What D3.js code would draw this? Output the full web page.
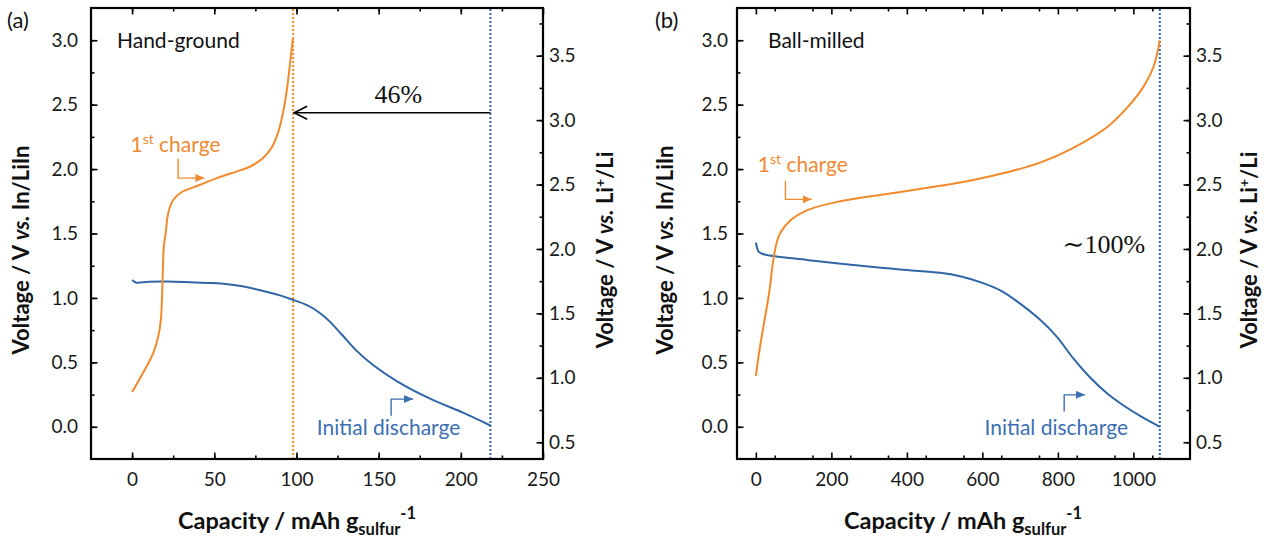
<!DOCTYPE html>
<html>
<head>
<meta charset="utf-8">
<script src="https://cdn.jsdelivr.net/npm/d3@7"></script>
<style>
  body { margin: 0; background: #fff; }
  text { font-family: Lato, "Noto Sans", sans-serif; }
</style>
</head>
<body>
<script>
// Hand-ground cell: capacity (mAh/g sulfur) and voltage vs In/LiIn
const handChargeCap = [0, 6.7, 12.8, 15.9, 17.5, 18.3, 18.9, 19.3, 20.4, 22, 25, 30, 41, 51.5, 65.7, 72, 80, 85, 89, 92, 94, 96.2, 97.8];
const handChargeV = [0.27, 0.42, 0.57, 0.70, 0.83, 1.04, 1.29, 1.40, 1.50, 1.66, 1.76, 1.82, 1.876, 1.93, 1.99, 2.02, 2.09, 2.17, 2.29, 2.45, 2.60, 2.83, 3.01];
const handDischargeCap = [0, 1.5, 3, 10, 21, 35, 49, 65, 78, 90, 98, 105, 110, 115, 120, 128, 137, 147, 161, 181, 202, 218];
const handDischargeV = [1.14, 1.125, 1.118, 1.125, 1.127, 1.122, 1.115, 1.095, 1.06, 1.02, 0.985, 0.952, 0.92, 0.875, 0.82, 0.71, 0.585, 0.475, 0.355, 0.22, 0.106, 0.01];

// Ball-milled cell
const ballChargeCap = [0, 7, 20, 32, 38, 44, 50, 56, 64, 91, 135, 223, 356, 488, 576, 665, 753, 841, 930, 983, 1027, 1053, 1070];
const ballChargeV = [0.395, 0.545, 0.78, 0.98, 1.10, 1.25, 1.36, 1.44, 1.50, 1.60, 1.68, 1.75, 1.81, 1.87, 1.915, 1.975, 2.05, 2.165, 2.325, 2.475, 2.64, 2.79, 3.0];
const ballDischargeCap = [0, 3, 7, 15, 29, 135, 311, 400, 488, 541, 602, 650, 691, 753, 797, 841, 886, 930, 974, 1020, 1070];
const ballDischargeV = [1.43, 1.39, 1.36, 1.345, 1.333, 1.295, 1.24, 1.217, 1.195, 1.168, 1.115, 1.055, 0.975, 0.83, 0.70, 0.53, 0.38, 0.26, 0.165, 0.08, 0.0];

// tick labels
const handCapTicks = [0, 50, 100, 150, 200, 250];
const ballCapTicks = [0, 200, 400, 600, 800, 1000];
const voltTicks = [0, 0.5, 1.0, 1.5, 2.0, 2.5, 3.0];
const liTicks = [0.5, 1.0, 1.5, 2.0, 2.5, 3.0, 3.5];
const liInOffset = 0.62; // In/LiIn vs Li+/Li

const orange = "#F28A2C", blue = "#2F66A5";
const orangeText = "#F08A32", blueText = "#3C6FB2";

const plotTop = 8, plotBottom = 459;
const voltDomain = [-0.25, 3.25];

const svg = d3.select("body").append("svg")
    .attr("width", 1267)
    .attr("height", 540);

// arrow heads
const defs = svg.append("defs");
[["tri-orange", orangeText], ["tri-blue", blueText]].forEach(([id, c]) => {
  defs.append("marker")
      .attr("id", id)
      .attr("markerUnits", "userSpaceOnUse")
      .attr("markerWidth", 10).attr("markerHeight", 10)
      .attr("refX", 9).attr("refY", 4)
      .attr("orient", "auto")
    .append("path")
      .attr("d", "M0,0 L9,4 L0,8 Z")
      .attr("fill", c);
});
defs.append("marker")
    .attr("id", "open-black")
    .attr("markerUnits", "userSpaceOnUse")
    .attr("markerWidth", 16).attr("markerHeight", 16)
    .attr("refX", 14).attr("refY", 7)
    .attr("orient", "auto")
  .append("path")
    .attr("d", "M1,0.5 L14,7 L1,13.5")
    .attr("fill", "none")
    .attr("stroke", "#000")
    .attr("stroke-width", 1.6);

const panels = [
  {
    tag: "(a)", tagX: 7, name: "Hand-ground", nameX: 117,
    left: 91, right: 543, xDomain: [-25, 250], xTicks: handCapTicks, xMinor: 25,
    leftPad: 13, titleX: 297, yTitleX: 29, y2TitleX: 613,
    charge: [handChargeCap, handChargeV], discharge: [handDischargeCap, handDischargeV],
    dotted: [[98, orange], [218, blue]],
    chargeLabel: {c: -1, v: 2.13, ax: 28, v1: 2.08, v2: 1.93, ax2: 44},
    dischargeLabel: {c: 112.4, v: -0.062, ax: 157.6, v1: 0.085, v2: 0.215, ax2: 171},
    gap: {from: 218, to: 98, v: 2.437, label: "46%", lc: 162, lv: 2.51, anchor: "middle"}
  },
  {
    tag: "(b)", tagX: 655, name: "Ball-milled", nameX: 768,
    left: 737, right: 1190, xDomain: [-50, 1150], xTicks: ballCapTicks, xMinor: 100,
    leftPad: 9, titleX: 963, yTitleX: 673, y2TitleX: 1257,
    charge: [ballChargeCap, ballChargeV], discharge: [ballDischargeCap, ballDischargeV],
    dotted: [[1070, blue]],
    chargeLabel: {c: 5, v: 1.98, ax: 78.4, v1: 1.91, v2: 1.765, ax2: 148},
    dischargeLabel: {c: 605.6, v: -0.062, ax: 816.7, v1: 0.119, v2: 0.248, ax2: 872},
    gap: {label: "\u223C100%", lc: 1031, lv: 1.35, anchor: "end"}
  }
];

function styleAxis(a, fontSize) {
  a.select(".domain").remove();
  a.selectAll(".tick line").attr("stroke", "#000").attr("stroke-width", 1.6);
  a.selectAll("text")
      .style("font-family", "Lato, 'Noto Sans', sans-serif")
      .style("font-size", fontSize + "px")
      .attr("fill", "#1a1a1a");
}

panels.forEach(p => {
  const x = d3.scaleLinear().domain(p.xDomain).range([p.left, p.right]);
  const y = d3.scaleLinear().domain(voltDomain).range([plotBottom, plotTop]);
  const y2 = d3.scaleLinear()
      .domain([voltDomain[0] + liInOffset, voltDomain[1] + liInOffset])
      .range([plotBottom, plotTop]);

  const g = svg.append("g");

  // minor ticks (inward)
  const xMinor = d3.range(p.xDomain[0] + p.xMinor, p.xDomain[1], p.xMinor);
  const yMinor = d3.range(0, 3.25, 0.25);
  const y2Minor = d3.range(0.5, 3.87, 0.25);
  g.append("g").attr("transform", `translate(0,${plotBottom})`)
      .call(d3.axisBottom(x).tickValues(xMinor).tickSize(-3.5).tickFormat(""))
      .call(a => styleAxis(a, 19));
  g.append("g").attr("transform", `translate(0,${plotTop})`)
      .call(d3.axisTop(x).tickValues(xMinor).tickSize(-3.5).tickFormat(""))
      .call(a => styleAxis(a, 19));
  g.append("g").attr("transform", `translate(${p.left},0)`)
      .call(d3.axisLeft(y).tickValues(yMinor).tickSize(-3.5).tickFormat(""))
      .call(a => styleAxis(a, 19));
  g.append("g").attr("transform", `translate(${p.right},0)`)
      .call(d3.axisRight(y2).tickValues(y2Minor).tickSize(-3.5).tickFormat(""))
      .call(a => styleAxis(a, 19));

  // major ticks
  g.append("g").attr("transform", `translate(0,${plotBottom})`)
      .call(d3.axisBottom(x).tickValues(p.xTicks).tickSize(-6.5).tickPadding(14).tickFormat(d3.format("d")))
      .call(a => styleAxis(a, 19));
  g.append("g").attr("transform", `translate(0,${plotTop})`)
      .call(d3.axisTop(x).tickValues(p.xTicks).tickSize(-6.5).tickFormat(""))
      .call(a => styleAxis(a, 19));
  g.append("g").attr("transform", `translate(${p.left},0)`)
      .call(d3.axisLeft(y).tickValues(voltTicks).tickSize(-6.5).tickPadding(p.leftPad).tickFormat(d3.format(".1f")))
      .call(a => styleAxis(a, 19));
  g.append("g").attr("transform", `translate(${p.right},0)`)
      .call(d3.axisRight(y2).tickValues(liTicks).tickSize(-6.5).tickPadding(6).tickFormat(d3.format(".1f")))
      .call(a => styleAxis(a, 19));

  // frame
  g.append("rect")
      .attr("x", p.left).attr("y", plotTop)
      .attr("width", p.right - p.left).attr("height", plotBottom - plotTop)
      .attr("fill", "none").attr("stroke", "#000").attr("stroke-width", 2.2);

  // dotted capacity markers
  p.dotted.forEach(([c, col]) => {
    g.append("line")
        .attr("x1", x(c)).attr("x2", x(c))
        .attr("y1", plotTop + 1).attr("y2", plotBottom - 1)
        .attr("stroke", col).attr("stroke-width", 2)
        .attr("stroke-dasharray", "2,2");
  });

  // curves
  const line = d3.line()
      .x(d => x(d[0]))
      .y(d => y(d[1]))
      .curve(d3.curveCatmullRom.alpha(0.5));
  [[p.discharge, blue], [p.charge, orange]].forEach(([s, col]) => {
    g.append("path")
        .datum(d3.zip(s[0], s[1]))
        .attr("d", line)
        .attr("fill", "none")
        .attr("stroke", col)
        .attr("stroke-width", 2);
  });

  // panel tag and sample name
  g.append("text").attr("x", p.tagX).attr("y", 28)
      .style("font-size", "22px").attr("fill", "#111").text(p.tag);
  g.append("text").attr("x", p.nameX).attr("y", 48)
      .style("font-size", "21px").attr("fill", "#111").text(p.name);

  // 1st charge label
  const cl = p.chargeLabel;
  const ct = g.append("text").attr("x", x(cl.c)).attr("y", y(cl.v))
      .style("font-size", "21px").attr("fill", orangeText);
  ct.append("tspan").text("1");
  ct.append("tspan").attr("dy", -8).style("font-size", "14px").text("st");
  ct.append("tspan").attr("dy", 8).text(" charge");
  g.append("path")
      .attr("d", `M${x(cl.ax)},${y(cl.v1)} V${y(cl.v2)} H${x(cl.ax2)}`)
      .attr("fill", "none").attr("stroke", orangeText).attr("stroke-width", 1.4)
      .attr("marker-end", "url(#tri-orange)");

  // initial discharge label
  const dl = p.dischargeLabel;
  g.append("text").attr("x", x(dl.c)).attr("y", y(dl.v))
      .style("font-size", "21px").attr("fill", blueText).text("Initial discharge");
  g.append("path")
      .attr("d", `M${x(dl.ax)},${y(dl.v1)} V${y(dl.v2)} H${x(dl.ax2)}`)
      .attr("fill", "none").attr("stroke", blueText).attr("stroke-width", 1.4)
      .attr("marker-end", "url(#tri-blue)");

  // capacity ratio annotation
  const gp = p.gap;
  if (gp.from !== undefined) {
    g.append("line")
        .attr("x1", x(gp.from)).attr("x2", x(gp.to) + 1)
        .attr("y1", y(gp.v)).attr("y2", y(gp.v))
        .attr("stroke", "#000").attr("stroke-width", 1.6)
        .attr("marker-end", "url(#open-black)");
  }
  g.append("text").attr("x", x(gp.lc)).attr("y", y(gp.lv))
      .attr("text-anchor", gp.anchor)
      .style("font-family", "'Liberation Serif', 'DejaVu Serif', serif")
      .style("font-size", "26px").attr("fill", "#111").text(gp.label);

  // x axis title
  const xt = g.append("text").attr("x", p.titleX).attr("y", 529)
      .attr("text-anchor", "middle")
      .style("font-size", "23.5px").style("font-weight", "bold").attr("fill", "#111");
  xt.append("tspan").text("Capacity / mAh g");
  xt.append("tspan").attr("dy", 6).style("font-size", "16.5px").text("sulfur");
  xt.append("tspan").attr("dy", -16).style("font-size", "16.5px").text("-1");

  // left y title
  const yt = g.append("text")
      .attr("transform", `translate(${p.yTitleX},250) rotate(-90)`)
      .attr("text-anchor", "middle")
      .style("font-size", "22px").style("font-weight", "bold").attr("fill", "#111");
  yt.append("tspan").text("Voltage / V ");
  yt.append("tspan").style("font-style", "italic").text("vs.");
  yt.append("tspan").text(" In/LiIn");

  // right y title
  const y2t = g.append("text")
      .attr("transform", `translate(${p.y2TitleX},250) rotate(-90)`)
      .attr("text-anchor", "middle")
      .style("font-size", "22px").style("font-weight", "bold").attr("fill", "#111");
  y2t.append("tspan").text("Voltage / V ");
  y2t.append("tspan").style("font-style", "italic").text("vs.");
  y2t.append("tspan").text(" Li");
  y2t.append("tspan").attr("dy", -8).style("font-size", "14px").text("+");
  y2t.append("tspan").attr("dy", 8).text("/Li");
});
</script>
</body>
</html>
